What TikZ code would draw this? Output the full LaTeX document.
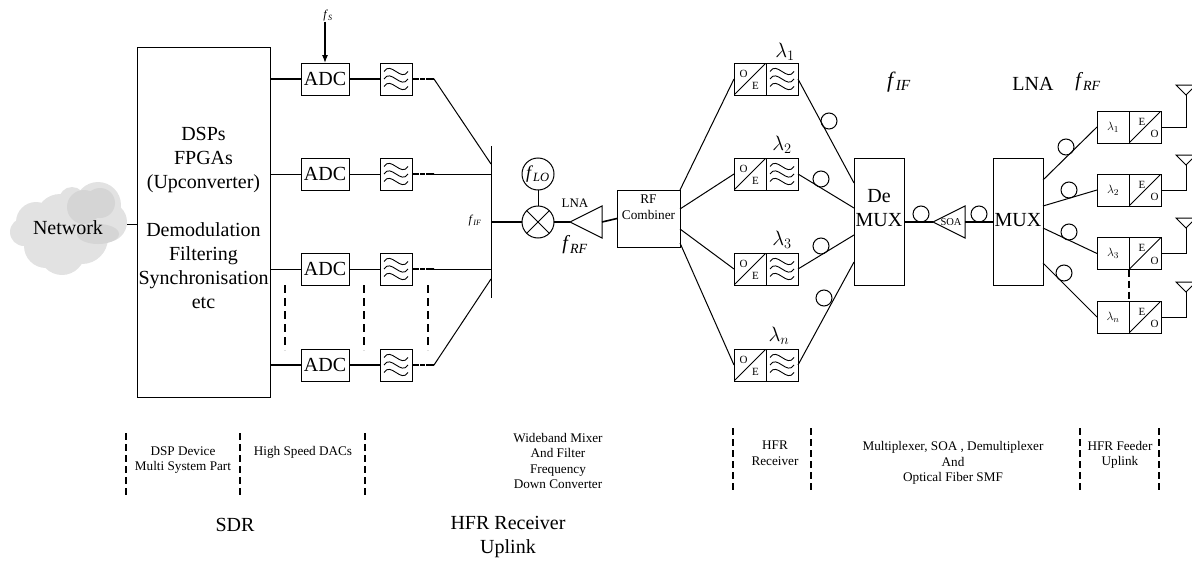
\documentclass[tikz,border=0pt]{standalone}
\usepackage{fontspec}
\setmainfont{Liberation Serif}
\usepackage{tikz}
\usetikzlibrary{arrows.meta,positioning,shapes.geometric,calc}
\definecolor{cloudgray}{RGB}{226,226,226}
\definecolor{lumpgray}{RGB}{213,213,213}
\newcommand{\fsig}[1]{\textit{f}$_{\mathit{#1}}$}
\tikzset{
  wire/.style={line width=1pt},
  heavy/.style={line width=1.6pt},
  tap/.style={line width=1.8pt, dash pattern=on 7pt off 1pt on 5pt off 1pt on 8pt off 0pt},
  rowdash/.style={line width=1.4pt, dash pattern=on 8pt off 5pt},
  sep/.style={line width=1.4pt, dash pattern=on 7pt off 4pt},
  bigtext/.style={font=\fontsize{20}{24}\selectfont, align=center, inner sep=0pt},
  smalltext/.style={font=\fontsize{13.2}{15.6}\selectfont, align=center, inner sep=0pt},
  box/.style={draw, line width=1pt, outer sep=0pt, inner sep=0pt, align=center},
  adcbox/.style={box, minimum width=48pt, minimum height=32pt, font=\fontsize{20}{24}\selectfont},
  filterbox/.style={box, minimum width=32pt, minimum height=32pt,
    path picture={
      \foreach \dy in {-7.5,0,7.5}
        \draw[line width=.9pt] ([xshift=-12pt,yshift=\dy pt]path picture bounding box.center)
          .. controls +(7pt,11pt) and +(-7pt,-11pt) .. ([xshift=12pt,yshift=\dy pt]path picture bounding box.center);
    }},
  slashbox/.style 2 args={box, minimum width=32pt, minimum height=32pt,
    path picture={
      \draw[line width=1pt] (path picture bounding box.south west) -- (path picture bounding box.north east);
      \node[draw=none, inner sep=0pt, minimum size=0pt, font=\fontsize{11}{11}\selectfont]
        at ([xshift=-6.5pt,yshift=5.5pt]path picture bounding box.center) {#1};
      \node[draw=none, inner sep=0pt, minimum size=0pt, font=\fontsize{11}{11}\selectfont]
        at ([xshift=5.5pt,yshift=-7pt]path picture bounding box.center) {#2};
    }},
  lambdabox/.style={box, minimum width=32pt, minimum height=32pt, font=\fontsize{13}{13}\selectfont},
  muxbox/.style={box, minimum width=50pt, minimum height=127pt, font=\fontsize{20}{24}\selectfont},
  amp/.style={draw, line width=1pt, isosceles triangle, isosceles triangle stretches, shape border rotate=180,
    minimum width=32pt, minimum height=32pt, inner sep=0pt, outer sep=0pt, anchor=apex},
  antenna/.style={draw, line width=1pt, isosceles triangle, isosceles triangle stretches, shape border rotate=270,
    minimum width=20pt, minimum height=10pt, inner sep=0pt, outer sep=0pt, anchor=apex},
  coil/.style={draw, line width=1pt, circle, minimum size=16pt, inner sep=0pt, outer sep=0pt},
  mixer/.style={draw, line width=1pt, circle, minimum size=32pt, inner sep=0pt, outer sep=0pt,
    path picture={
      \draw[line width=1pt] (path picture bounding box.south west) -- (path picture bounding box.north east);
      \draw[line width=1pt] (path picture bounding box.north west) -- (path picture bounding box.south east);
    }}
}
\begin{document}
\begin{tikzpicture}[x=1pt,y=-1pt,node distance=31pt]
  \clip (0,0) rectangle (1192,562);

  \fill[cloudgray] (24,232) circle (14pt);
  \fill[cloudgray] (36,222) circle (20pt);
  \fill[cloudgray] (46,246) circle (22pt);
  \fill[cloudgray] (62,252) circle (23pt);
  \fill[cloudgray] (60,218) circle (24pt);
  \fill[cloudgray] (82,238) circle (26pt);
  \fill[cloudgray] (72,200) circle (13pt);
  \fill[cloudgray] (98,205) circle (23pt);
  \fill[cloudgray] (107,222) circle (20pt);
  \fill[lumpgray] (84,207) circle (17pt);
  \fill[lumpgray] (100,203) circle (15pt);
  \fill[lumpgray] (98,234) ellipse (21pt and 10pt);
  \node[bigtext] (net) at (68,228) {Network};
  \coordinate (netout) at (127,224);

  \node[box, minimum width=133pt, minimum height=350pt] (dsp) at (203.5,222) {};
  \node[bigtext] (dsptext) at (203.5,218) {DSPs\\FPGAs\\(Upconverter)\\ \\Demodulation\\Filtering\\Synchronisation\\etc};

  \node[adcbox] (adc1) at (325,79) {ADC};
  \node[adcbox] (adc2) at (325,174) {ADC};
  \node[adcbox] (adc3) at (325,269) {ADC};
  \node[adcbox] (adc4) at (325,365) {ADC};
  \node[filterbox, right=of adc1] (filt1) {};
  \node[filterbox, right=of adc2] (filt2) {};
  \node[filterbox, right=of adc3] (filt3) {};
  \node[filterbox, right=of adc4] (filt4) {};
  \node[inner sep=0pt, font=\fontsize{12}{12}\selectfont] (fs) at (328,16) {\fsig{S}};

  \coordinate (tap1) at (434,79);
  \coordinate (tap2) at (434,174);
  \coordinate (tap3) at (434,269);
  \coordinate (tap4) at (434,365);
  \coordinate (bustop) at (491,146);
  \coordinate (busbot) at (491,298);
  \coordinate (busin1) at (491,164);
  \coordinate (busin4) at (491,279);
  \coordinate (busout) at (491,222);

  \draw[heavy] (dsp.east |- adc1) -- (adc1);
  \draw[wire] (dsp.east |- adc2) -- (adc2);
  \draw[wire] (dsp.east |- adc3) -- (adc3);
  \draw[heavy] (dsp.east |- adc4) -- (adc4);
  \draw[heavy] (adc1) -- (filt1);
  \draw[wire] (adc2) -- (filt2);
  \draw[wire] (adc3) -- (filt3);
  \draw[heavy] (adc4) -- (filt4);
  \draw[tap] (filt1) -- (tap1);
  \draw[tap] (filt2) -- (tap2);
  \draw[tap] (filt3) -- (tap3);
  \draw[tap] (filt4) -- (tap4);
  \draw[wire] (tap1) -- (busin1);
  \draw[wire] (tap2) -- (tap2 -| busout);
  \draw[wire] (tap3) -- (tap3 -| busout);
  \draw[wire] (tap4) -- (busin4);
  \draw[wire] (bustop) -- (busbot);
  \draw[line width=1.2pt, -{Latex[length=8pt,width=6pt]}] (fs.south -| adc1) -- (adc1.north);
  \draw[wire] (netout) -- (dsp.west |- netout);

  \draw[rowdash] (285,285) -- (285,350);
  \draw[rowdash] (364,285) -- (364,350);
  \draw[rowdash] (428,285) -- (428,350);

  \node[inner sep=0pt, font=\fontsize{12}{12}\selectfont] (fif) at (475,221) {\fsig{IF}};
  \node[mixer] (mix) at (538,222) {};
  \node[coil, minimum size=32pt, font=\fontsize{18}{18}\selectfont] (flo) at (538,174) {\fsig{LO}};
  \node[amp] (lna) at (570,222) {};
  \node[inner sep=0pt, font=\fontsize{13}{13}\selectfont] (lnatext) at (575,203) {LNA};
  \node[inner sep=0pt, font=\fontsize{20}{20}\selectfont] (frf) at (575,245) {\fsig{RF}};
  \node[box, minimum width=63pt, minimum height=57pt, anchor=north west] (comb) at (617,190) {};
  \node[inner sep=0pt, font=\fontsize{13.3}{16}\selectfont, align=center] (combtext) at (648.5,207) {RF\\Combiner};

  \draw[heavy] (busout) -- (mix);
  \draw[wire] (flo) -- (mix);
  \draw[heavy] (mix) -- (lna.apex);
  \draw[heavy] (lna.lower side) -- (comb.west);

  \node[slashbox={O}{E}] (oe1) at (750,79) {};
  \node[slashbox={O}{E}] (oe2) at (750,174) {};
  \node[slashbox={O}{E}] (oe3) at (750,269) {};
  \node[slashbox={O}{E}] (oe4) at (750,365) {};
  \node[filterbox, right=0pt of oe1] (rx1) {};
  \node[filterbox, right=0pt of oe2] (rx2) {};
  \node[filterbox, right=0pt of oe3] (rx3) {};
  \node[filterbox, right=0pt of oe4] (rx4) {};
  \node[inner sep=0pt, font=\fontsize{20}{20}\selectfont] (lamrx1) at (785,52) {$\lambda_1$};
  \node[inner sep=0pt, font=\fontsize{20}{20}\selectfont] (lamrx2) at (782,145) {$\lambda_2$};
  \node[inner sep=0pt, font=\fontsize{20}{20}\selectfont] (lamrx3) at (782,240) {$\lambda_3$};
  \node[inner sep=0pt, font=\fontsize{20}{20}\selectfont] (lamrx4) at (779,336) {$\lambda_n$};

  \coordinate (combout1) at (680,190);
  \coordinate (combout2) at (680,209);
  \coordinate (combout3) at (680,229);
  \coordinate (combout4) at (680,243);
  \draw[wire] (combout1) -- (oe1.west);
  \draw[wire] (combout2) -- (oe2.west);
  \draw[wire] (combout3) -- (oe3.west);
  \draw[wire] (combout4) -- (oe4.west);

  \node[muxbox] (demux) at (879,221.5) {};
  \node[bigtext] (demuxtext) at (879,208) {De\\MUX};
  \coordinate (demuxin1) at (854,183);
  \coordinate (demuxin2) at (854,208);
  \coordinate (demuxin3) at (854,235);
  \coordinate (demuxin4) at (854,262);
  \draw[wire] (rx1.east) -- (demuxin1);
  \draw[wire] (rx2.east) -- (demuxin2);
  \draw[wire] (rx3.east) -- (demuxin3);
  \draw[wire] (rx4.east) -- (demuxin4);
  \node[coil] (coil1) at (829,121) {};
  \node[coil] (coil2) at (821,179) {};
  \node[coil] (coil3) at (821,246) {};
  \node[coil] (coil4) at (824,298) {};

  \node[amp] (soa) at (933,222) {};
  \node[inner sep=0pt, font=\fontsize{10.5}{10.5}\selectfont] (soatext) at (951,222) {SOA};
  \node[muxbox] (mux) at (1018,221.5) {};
  \node[bigtext] (muxtext) at (1018,220) {MUX};
  \draw[heavy] (demux.east |- soa.apex) -- (soa.apex);
  \draw[heavy] (soa.lower side) -- (mux.west |- soa.lower side);
  \node[coil] (coil5) at (921,214) {};
  \node[coil] (coil6) at (979,214) {};

  \node[lambdabox] (lam1) at (1113,127) {$\lambda_1$};
  \node[lambdabox] (lam2) at (1113,190) {$\lambda_2$};
  \node[lambdabox] (lam3) at (1113,253.5) {$\lambda_3$};
  \node[lambdabox] (lam4) at (1113,317) {$\lambda_n$};
  \node[slashbox={E}{O}, right=0pt of lam1] (eo1) {};
  \node[slashbox={E}{O}, right=0pt of lam2] (eo2) {};
  \node[slashbox={E}{O}, right=0pt of lam3] (eo3) {};
  \node[slashbox={E}{O}, right=0pt of lam4] (eo4) {};
  \coordinate (muxout1) at (1043,180);
  \coordinate (muxout2) at (1043,206);
  \coordinate (muxout3) at (1043,228);
  \coordinate (muxout4) at (1043,263);
  \draw[wire] (muxout1) -- (lam1.west);
  \draw[wire] (muxout2) -- (lam2.west);
  \draw[wire] (muxout3) -- (lam3.west);
  \draw[wire] (muxout4) -- (lam4.west);
  \node[coil] (coil7) at (1066,147) {};
  \node[coil] (coil8) at (1069,190) {};
  \node[coil] (coil9) at (1069,232) {};
  \node[coil] (coil10) at (1064,273) {};
  \draw[sep] (eo3.south west) -- (eo4.north west);

  \node[antenna] (ant1) at (1186,95) {};
  \node[antenna] (ant2) at (1186,165) {};
  \node[antenna] (ant3) at (1186,228) {};
  \node[antenna] (ant4) at (1186,292) {};
  \draw[wire] (eo1.east) -| (ant1.apex);
  \draw[wire] (eo2.east) -| (ant2.apex);
  \draw[wire] (eo3.east) -| (ant3.apex);
  \draw[wire] (eo4.east) -| (ant4.apex);

  \node[inner sep=0pt, font=\fontsize{22}{22}\selectfont] (figtop) at (899,82) {\fsig{IF}};
  \node[bigtext] (lnatop) at (1033,84) {LNA};
  \node[inner sep=0pt, font=\fontsize{20}{20}\selectfont] (frftop) at (1088,82) {\fsig{RF}};

  \draw[sep] (126,433) -- (126,497);
  \draw[sep] (240,433) -- (240,497);
  \draw[sep] (365,433) -- (365,497);
  \draw[sep] (733,428) -- (733,492);
  \draw[sep] (811,428) -- (811,492);
  \draw[sep] (1080,428) -- (1080,492);
  \draw[sep] (1159,428) -- (1159,492);
  \node[smalltext] (lbldsp) at (183,460) {DSP Device\\Multi System Part};
  \node[smalltext] (lbldac) at (303,452) {High Speed DACs};
  \node[smalltext] (lblmix) at (558,461) {Wideband Mixer\\And Filter\\Frequency\\Down Converter};
  \node[smalltext] (lblrx) at (775,453) {HFR\\Receiver};
  \node[smalltext] (lblmux) at (953,463) {Multiplexer, SOA , Demultiplexer\\And\\Optical Fiber SMF};
  \node[smalltext] (lblfeed) at (1120,455) {HFR Feeder\\Uplink};
  \node[bigtext] (lblsdr) at (235,525) {SDR};
  \node[bigtext] (lblhfr) at (508,537) {HFR Receiver\\Uplink};
\end{tikzpicture}
\end{document}
